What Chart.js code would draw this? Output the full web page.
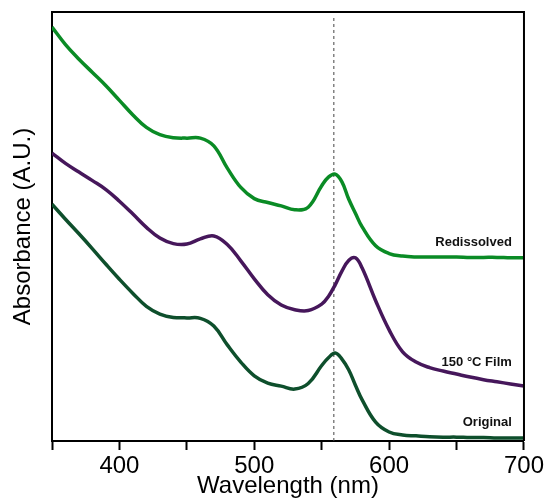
<!DOCTYPE html>
<html>
<head>
<meta charset="utf-8">
<script src="https://cdn.jsdelivr.net/npm/chart.js@4.4.1/dist/chart.umd.min.js"></script>
<style>
    html, body { margin: 0; padding: 0; background: #fff; }
</style>
</head>
<body>
<canvas id="absorbancia" width="546" height="498"></canvas>
<script>
const wavelengths = [350, 360, 370, 380, 390, 400, 410, 420, 430, 440, 450, 460, 470, 480, 490, 500, 510, 520, 530, 540, 550, 555, 560, 565, 570, 575, 580, 590, 600, 610, 620, 630, 640, 650, 660, 670, 680, 690, 700];

const redissolved = [0.965, 0.924, 0.890, 0.859, 0.828, 0.794, 0.760, 0.731, 0.714, 0.707, 0.706, 0.706, 0.688, 0.636, 0.591, 0.565, 0.556, 0.548, 0.539, 0.545, 0.595, 0.615, 0.622, 0.604, 0.564, 0.531, 0.499, 0.455, 0.437, 0.431, 0.429, 0.429, 0.429, 0.429, 0.428, 0.428, 0.428, 0.427, 0.427];

const film150 = [0.671, 0.647, 0.627, 0.607, 0.586, 0.559, 0.529, 0.498, 0.473, 0.460, 0.459, 0.471, 0.478, 0.458, 0.420, 0.378, 0.341, 0.317, 0.306, 0.304, 0.319, 0.337, 0.364, 0.396, 0.421, 0.427, 0.403, 0.327, 0.259, 0.208, 0.184, 0.171, 0.163, 0.156, 0.149, 0.143, 0.138, 0.133, 0.128];

const original = [0.552, 0.517, 0.483, 0.448, 0.412, 0.377, 0.344, 0.314, 0.296, 0.288, 0.287, 0.286, 0.268, 0.224, 0.184, 0.152, 0.135, 0.128, 0.121, 0.134, 0.176, 0.194, 0.205, 0.191, 0.166, 0.130, 0.096, 0.044, 0.021, 0.014, 0.012, 0.010, 0.009, 0.009, 0.008, 0.008, 0.007, 0.007, 0.007];

// linha tracejada no pico de referencia
const refPeak = 559;
const xTicks = [400, 500, 600, 700];

const curveNames = ['Redissolved', '150 °C Film', 'Original'];
const labelX = 691;
const labelY = [0.464, 0.183, 0.043];

const fonte = '"Liberation Sans", Arial, Helvetica, sans-serif';

const pontos = (ys) => wavelengths.map((w, i) => ({ x: w, y: ys[i] }));

const moldura = {
    id: 'moldura',
    afterDatasetsDraw(chart) {
        const { ctx, chartArea: a, scales } = chart;
        ctx.save();
        ctx.strokeStyle = '#000';
        ctx.lineWidth = 2;
        ctx.beginPath();
        ctx.moveTo(a.left, a.top);
        ctx.lineTo(a.right, a.top);
        ctx.lineTo(a.right, a.bottom);
        ctx.stroke();

        ctx.font = 'bold 13px ' + fonte;
        ctx.fillStyle = '#111';
        ctx.textAlign = 'right';
        ctx.textBaseline = 'middle';
        curveNames.forEach((t, i) => {
            ctx.fillText(t, scales.x.getPixelForValue(labelX), scales.y.getPixelForValue(labelY[i]));
        });
        ctx.restore();
    }
};

const absorbancia = document.getElementById('absorbancia');

new Chart(absorbancia, {
    type: 'line',
    data: {
        datasets: [
            {
                label: 'Redissolved',
                data: pontos(redissolved),
                borderColor: '#0a8b25',
                borderWidth: 3.5,
                pointRadius: 0,
                tension: 0.4
            },
            {
                label: '150 °C Film',
                data: pontos(film150),
                borderColor: '#46175b',
                borderWidth: 3.5,
                pointRadius: 0,
                tension: 0.4
            },
            {
                label: 'Original',
                data: pontos(original),
                borderColor: '#0e4f2c',
                borderWidth: 3.5,
                pointRadius: 0,
                tension: 0.4
            },
            {
                label: 'ref',
                data: [{ x: refPeak, y: 0 }, { x: refPeak, y: 0.99 }],
                borderColor: '#444',
                borderWidth: 1,
                borderDash: [3, 3],
                pointRadius: 0,
                order: 10
            }
        ]
    },
    options: {
        responsive: false,
        animation: false,
        layout: {
            padding: { top: 12, right: 21, left: 0, bottom: 0 }
        },
        scales: {
            x: {
                type: 'linear',
                min: 350,
                max: 700,
                ticks: {
                    stepSize: 50,
                    autoSkip: false,
                    maxRotation: 0,
                    padding: 2,
                    color: '#000',
                    font: { family: fonte, size: 24 },
                    callback: (v) => xTicks.includes(v) ? v : ''
                },
                grid: {
                    drawOnChartArea: false,
                    drawTicks: true,
                    tickLength: 9,
                    tickWidth: 2,
                    color: '#000',
                    tickColor: '#000'
                },
                border: { display: true, color: '#000', width: 2 },
                title: {
                    display: true,
                    text: 'Wavelength (nm)',
                    color: '#000',
                    font: { family: fonte, size: 24, lineHeight: 1 },
                    padding: 0
                },
                afterFit: (s) => { s.height = 57; }
            },
            y: {
                min: 0,
                max: 1,
                ticks: { display: false },
                grid: { drawOnChartArea: false, drawTicks: false },
                border: { display: true, color: '#000', width: 2 },
                title: {
                    display: true,
                    text: 'Absorbance (A.U.)',
                    color: '#000',
                    font: { family: fonte, size: 24 },
                    padding: { top: 9, bottom: 0 }
                },
                afterFit: (s) => { s.width = 52; }
            }
        },
        plugins: {
            legend: { display: false },
            tooltip: { enabled: false }
        }
    },
    plugins: [moldura]
});
</script>
</body>
</html>
